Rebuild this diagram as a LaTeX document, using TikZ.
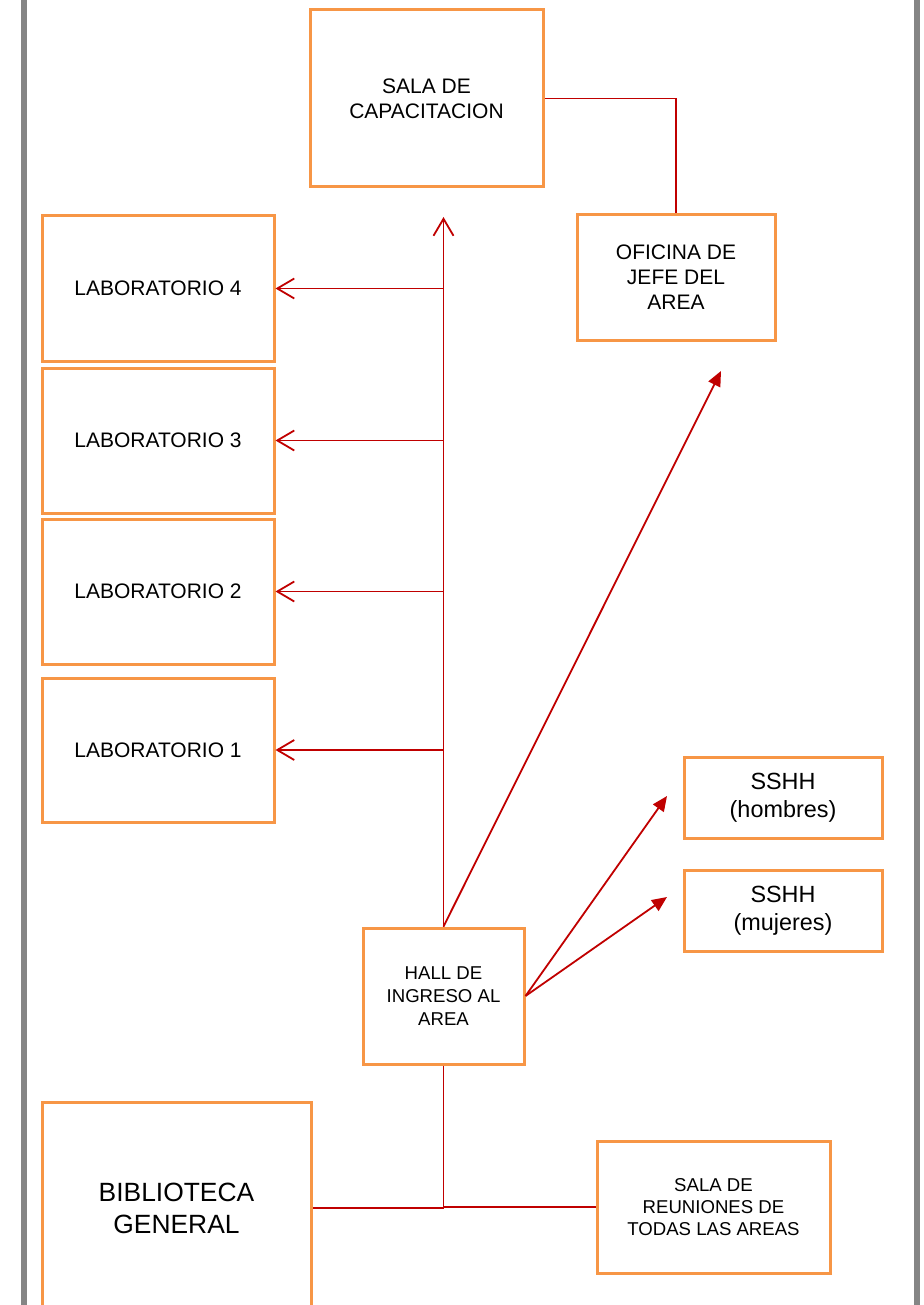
\documentclass[tikz,border=0pt]{standalone}
\usepackage{fontspec}
\setmainfont{Liberation Sans}
\usetikzlibrary{arrows.meta}

\definecolor{boxorange}{HTML}{F79646}
\definecolor{linkred}{HTML}{C00000}
\definecolor{wallgray}{HTML}{858585}

\def\unitpx{0.5pt}

\tikzset{
  room/.style 2 args={rectangle, draw=boxorange, line width=1.5pt, align=center,
    inner sep=0pt, minimum width=#1*\unitpx, minimum height=#2*\unitpx,
    font=\fontsize{10.5}{12.5}\selectfont},
  link/.style={draw=linkred, line width=0.9pt},
  barb/.style={link, -{Straight Barb[length=8.5pt,width=10pt]}},
  tri/.style={link, -{Triangle[length=7.5pt,width=6.5pt]}},
  wall/.style={draw=wallgray, line width=2.6pt}
}

\begin{document}
\begin{tikzpicture}[x=0.5pt, y=-0.5pt]
\useasboundingbox (0,0) rectangle (923,1305);
\clip (0,0) rectangle (923,1305);

% walls
\draw[wall] (24,-5) -- (24,1310);
\draw[wall] (917,-5) -- (917,1310);

\node[room={233}{177}] (capa) at (426.5,98.5) {SALA DE\\CAPACITACION};
\node[room={198}{126}] (jefe) at (676,277.5) {OFICINA DE\\JEFE DEL\\AREA};

\node[room={232}{145}] (lab4) at (158,288.5) {LABORATORIO 4};
\node[room={232}{145}] (lab3) at (158,440.5) {LABORATORIO 3};
\node[room={232}{145}] (lab2) at (158,591.5) {LABORATORIO 2};
\node[room={232}{144}] (lab1) at (158,750) {LABORATORIO 1};

\node[room={161}{136}, font=\fontsize{9.3}{11.3}\selectfont] (hall) at (443.5,996) {HALL DE\\INGRESO AL\\AREA};
\node[room={198}{81}, font=\fontsize{11.7}{14}\selectfont] (hom) at (783,797.5) {SSHH\\(hombres)};
\node[room={198}{81}, font=\fontsize{11.7}{14}\selectfont] (muj) at (783,910.5) {SSHH\\(mujeres)};

\node[room={269}{212}, font=\fontsize{13.2}{16}\selectfont] (bib) at (176.5,1208) {BIBLIOTECA\\GENERAL};
\node[room={233}{132}, font=\fontsize{9.3}{11}\selectfont] (reun) at (713.5,1207) {SALA DE\\REUNIONES DE\\TODAS LAS AREAS};

\coordinate (capatip) at (443.5,217);
\coordinate (jefetip) at (721,371);
\coordinate (homtip) at (667,796);
\coordinate (mujtip) at (667,897);

\draw[link] (capa.east) -| (jefe.north);
\draw[barb] (hall.north) -- (capatip);
\foreach \lab in {lab1,lab2,lab3,lab4}
  \draw[barb] (hall.north |- \lab.east) -- (\lab.east);
\draw[tri] (hall.north) -- (jefetip);
\draw[tri] (hall.east) -- (homtip);
\draw[tri] (hall.east) -- (mujtip);

\draw[link] (hall.south) -- (hall.south |- bib.east) -- (bib.east);
\draw[link] (hall.south |- reun.west) -- (reun.west);
\end{tikzpicture}
\end{document}
